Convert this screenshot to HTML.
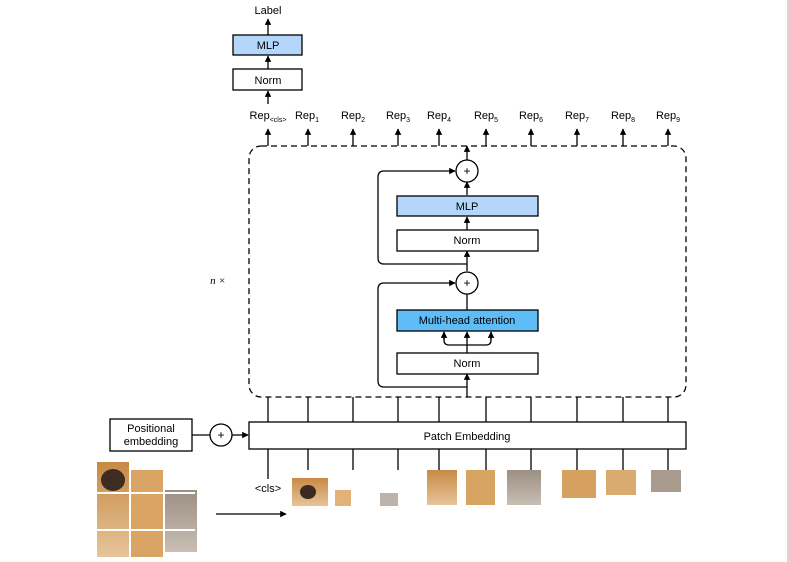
<!DOCTYPE html>
<html><head><meta charset="utf-8"><style>
body{margin:0;background:#fff}
svg{display:block;font-family:"Liberation Sans",Arial,sans-serif}
</style></head><body>
<svg width="789" height="562" viewBox="0 0 789 562" xmlns="http://www.w3.org/2000/svg">
<defs>
<marker id="a" viewBox="0 0 10 10" refX="9" refY="5" markerWidth="5" markerHeight="5" orient="auto"><path d="M0,0L10,5L0,10z" fill="#000"/></marker>
<linearGradient id="tan" x1="0" y1="0" x2="0" y2="1"><stop offset="0" stop-color="#c88a45"/><stop offset="1" stop-color="#e6c49a"/></linearGradient>
<linearGradient id="grey" x1="0" y1="0" x2="0" y2="1"><stop offset="0" stop-color="#9c8f84"/><stop offset="1" stop-color="#c9beb4"/></linearGradient>
</defs>
<rect x="0" y="0" width="789" height="562" fill="#fff"/>
<line x1="788" y1="0" x2="788" y2="562" stroke="#c8c8c8" stroke-width="1.5"/>
<g stroke="#000" stroke-width="1.3" fill="none">
<!-- top head -->
<line x1="268" y1="35" x2="268" y2="19" marker-end="url(#a)"/>
<line x1="268" y1="69" x2="268" y2="56" marker-end="url(#a)"/>
<line x1="268" y1="104" x2="268" y2="91" marker-end="url(#a)"/>
<!-- rep arrows -->
<line x1="268" y1="146" x2="268" y2="129" marker-end="url(#a)"/>
<line x1="308" y1="146" x2="308" y2="129" marker-end="url(#a)"/>
<line x1="353" y1="146" x2="353" y2="129" marker-end="url(#a)"/>
<line x1="398" y1="146" x2="398" y2="129" marker-end="url(#a)"/>
<line x1="439" y1="146" x2="439" y2="129" marker-end="url(#a)"/>
<line x1="486" y1="146" x2="486" y2="129" marker-end="url(#a)"/>
<line x1="531" y1="146" x2="531" y2="129" marker-end="url(#a)"/>
<line x1="577" y1="146" x2="577" y2="129" marker-end="url(#a)"/>
<line x1="623" y1="146" x2="623" y2="129" marker-end="url(#a)"/>
<line x1="668" y1="146" x2="668" y2="129" marker-end="url(#a)"/>
<!-- dashed box -->
<rect x="249" y="146" width="437" height="251" rx="12" stroke-dasharray="6,4"/>
<!-- inner main path -->
<line x1="467" y1="160" x2="467" y2="146" marker-end="url(#a)"/>
<line x1="467" y1="195" x2="467" y2="182" marker-end="url(#a)"/>
<line x1="467" y1="230" x2="467" y2="217" marker-end="url(#a)"/>
<line x1="467" y1="271" x2="467" y2="251" marker-end="url(#a)"/>
<line x1="467" y1="310" x2="467" y2="294"/>
<line x1="467" y1="353" x2="467" y2="332" marker-end="url(#a)"/>
<line x1="467" y1="397" x2="467" y2="374" marker-end="url(#a)"/>
<path d="M444,332 L444,340 Q444,345 449,345 L486,345 Q491,345 491,340 L491,332" />
<line x1="444" y1="340" x2="444" y2="332" marker-end="url(#a)"/>
<line x1="491" y1="340" x2="491" y2="332" marker-end="url(#a)"/>
<!-- loops -->
<path d="M467,264 L384,264 Q378,264 378,258 L378,177 Q378,171 384,171 L455,171" marker-end="url(#a)"/>
<path d="M467,387 L384,387 Q378,387 378,381 L378,289 Q378,283 384,283 L455,283" marker-end="url(#a)"/>
<!-- below dashed to patch embedding -->
<line x1="268" y1="397" x2="268" y2="422"/><line x1="308" y1="397" x2="308" y2="422"/>
<line x1="353" y1="397" x2="353" y2="422"/><line x1="398" y1="397" x2="398" y2="422"/>
<line x1="439" y1="397" x2="439" y2="422"/><line x1="486" y1="397" x2="486" y2="422"/>
<line x1="531" y1="397" x2="531" y2="422"/><line x1="577" y1="397" x2="577" y2="422"/>
<line x1="623" y1="397" x2="623" y2="422"/><line x1="668" y1="397" x2="668" y2="422"/>
<line x1="268" y1="449" x2="268" y2="479"/><line x1="308" y1="449" x2="308" y2="470"/>
<line x1="353" y1="449" x2="353" y2="470"/><line x1="398" y1="449" x2="398" y2="470"/>
<line x1="439" y1="449" x2="439" y2="470"/><line x1="486" y1="449" x2="486" y2="470"/>
<line x1="531" y1="449" x2="531" y2="470"/><line x1="577" y1="449" x2="577" y2="470"/>
<line x1="623" y1="449" x2="623" y2="470"/><line x1="668" y1="449" x2="668" y2="470"/>
<!-- positional -->
<line x1="192" y1="435" x2="210" y2="435"/>
<line x1="232" y1="435" x2="248" y2="435" marker-end="url(#a)"/>
<line x1="216" y1="514" x2="286" y2="514" marker-end="url(#a)"/>
</g>
<!-- boxes -->
<g stroke="#000" stroke-width="1.3">
<rect x="233" y="35" width="69" height="20" fill="#b3d6fa"/>
<rect x="233" y="69" width="69" height="21" fill="#fff"/>
<rect x="397" y="196" width="141" height="20" fill="#b3d6fa"/>
<rect x="397" y="230" width="141" height="21" fill="#fff"/>
<rect x="397" y="310" width="141" height="21" fill="#5ebcf6"/>
<rect x="397" y="353" width="141" height="21" fill="#fff"/>
<rect x="249" y="422" width="437" height="27" fill="#fff"/>
<rect x="110" y="419" width="82" height="32" fill="#fff"/>
<circle cx="467" cy="171" r="11" fill="#fff"/>
<circle cx="467" cy="283" r="11" fill="#fff"/>
<circle cx="221" cy="435" r="11" fill="#fff"/>
</g>
<g font-size="11" text-anchor="middle" fill="#000">
<text x="268" y="14">Label</text>
<text x="268" y="49">MLP</text>
<text x="268" y="84">Norm</text>
<text x="467" y="175" font-size="12">+</text>
<text x="467" y="287" font-size="12">+</text>
<text x="221" y="439" font-size="12">+</text>
<text x="467" y="210">MLP</text>
<text x="467" y="244">Norm</text>
<text x="467" y="324">Multi-head attention</text>
<text x="467" y="367">Norm</text>
<text x="467" y="440">Patch Embedding</text>
<text x="151" y="432">Positional</text>
<text x="151" y="445">embedding</text>
<text x="268" y="492">&lt;cls&gt;</text>
<text x="218" y="284" font-style="italic" font-family="Liberation Serif,serif">n ×</text>
<text x="268" y="119">Rep<tspan font-size="7" dy="3">&lt;cls&gt;</tspan></text>
<text x="307" y="119">Rep<tspan font-size="7" dy="3">1</tspan></text>
<text x="353" y="119">Rep<tspan font-size="7" dy="3">2</tspan></text>
<text x="398" y="119">Rep<tspan font-size="7" dy="3">3</tspan></text>
<text x="439" y="119">Rep<tspan font-size="7" dy="3">4</tspan></text>
<text x="486" y="119">Rep<tspan font-size="7" dy="3">5</tspan></text>
<text x="531" y="119">Rep<tspan font-size="7" dy="3">6</tspan></text>
<text x="577" y="119">Rep<tspan font-size="7" dy="3">7</tspan></text>
<text x="623" y="119">Rep<tspan font-size="7" dy="3">8</tspan></text>
<text x="668" y="119">Rep<tspan font-size="7" dy="3">9</tspan></text>
</g>
<!-- image patches -->
<g>
<rect x="292" y="478" width="36" height="28" fill="url(#tan)"/>
<ellipse cx="308" cy="492" rx="8" ry="7" fill="#3a2a22"/>
<rect x="335" y="490" width="16" height="16" fill="#e2b27a"/>
<rect x="380" y="493" width="18" height="13" fill="#bfb3a9"/>
<rect x="427" y="470" width="30" height="35" fill="url(#tan)"/>
<rect x="466" y="470" width="29" height="35" fill="#d8a464"/>
<rect x="507" y="470" width="34" height="35" fill="url(#grey)"/>
<rect x="562" y="470" width="34" height="28" fill="#d6a060"/>
<rect x="606" y="470" width="30" height="25" fill="#d9ab70"/>
<rect x="651" y="470" width="30" height="22" fill="#a99b8e"/>
<!-- left full image -->
<rect x="97" y="462" width="32" height="95" fill="url(#tan)"/>
<rect x="131" y="470" width="32" height="87" fill="#d9a464"/>
<rect x="165" y="490" width="32" height="62" fill="url(#grey)"/>
<ellipse cx="113" cy="480" rx="12" ry="11" fill="#3d2c22"/>
<rect x="95" y="492" width="100" height="2" fill="#fff"/>
<rect x="95" y="529" width="100" height="2" fill="#fff"/>
<rect x="129" y="462" width="2" height="96" fill="#fff"/>
<rect x="163" y="462" width="2" height="96" fill="#fff"/>
</g>
</svg>
</body></html>
